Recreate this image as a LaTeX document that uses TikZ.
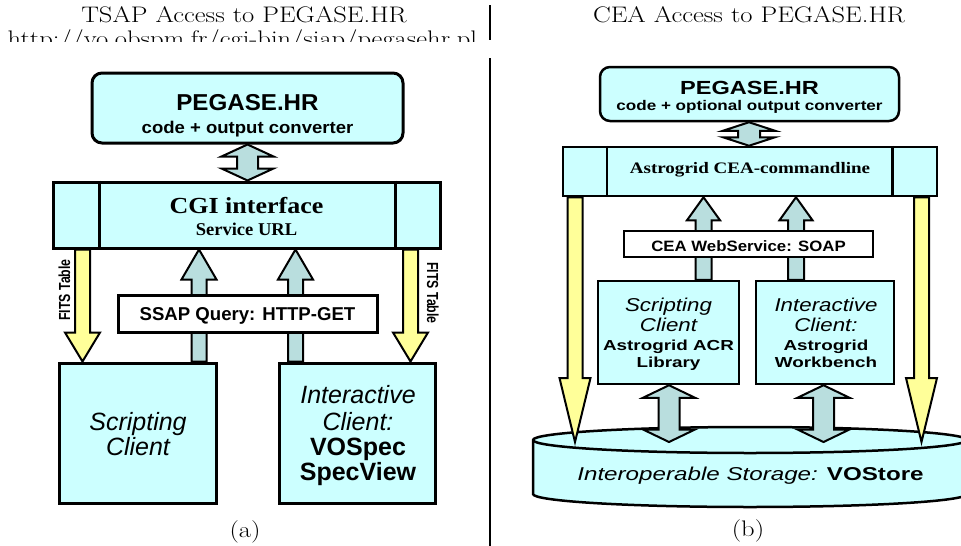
\documentclass[tikz,border=0pt]{standalone}
\usepackage{fontspec}
\setsansfont{Liberation Sans}
\newfontfamily\tms{Liberation Serif}
\usepackage{graphicx}
\usetikzlibrary{calc}
\definecolor{boxcyan}{RGB}{204,255,255}
\definecolor{arrcyan}{RGB}{185,222,222}
\definecolor{arryel}{RGB}{255,255,153}
\newcommand{\hs}[2]{\scalebox{#1}[1]{#2}}
\newcommand{\fs}[1]{\fontsize{#1}{#1}\selectfont}
% #1 style, #2 tail, #3 tip, #4 head half width, #5 shaft half width, #6 head length
\newcommand{\blockarrow}[6]{%
  \draw[#1] let \p1=#2, \p2=#3, \p3=($#3!#6!#2$) in
  (\x1-#5,\y1) -- (\x3-#5,\y3) -- (\x3-#4,\y3) -- (\x2,\y2) -- (\x3+#4,\y3) -- (\x3+#5,\y3) -- (\x1+#5,\y1) -- cycle;}
\newcommand{\dblarrow}[6]{%
  \draw[#1] let \p1=#2, \p2=#3, \p3=($#2!#6!#3$), \p4=($#3!#6!#2$) in
  (\x1,\y1) -- (\x3+#4,\y3) -- (\x3+#5,\y3) -- (\x4+#5,\y4) -- (\x4+#4,\y4) -- (\x2,\y2) -- (\x4-#4,\y4) -- (\x4-#5,\y4) -- (\x3-#5,\y3) -- (\x3-#4,\y3) -- cycle;}
\tikzset{
  cbox/.style={draw=black, fill=boxcyan, line width=3pt, inner sep=0pt},
  wbox/.style={draw=black, fill=white, line width=3pt, inner sep=0pt},
  cboxb/.style={draw=black, fill=boxcyan, line width=2.5pt, inner sep=0pt},
  wboxb/.style={draw=black, fill=white, line width=2.5pt, inner sep=0pt},
  arrc/.style={draw=black, fill=arrcyan, line width=2pt},
  arry/.style={draw=black, fill=arryel, line width=2pt},
  txt/.style={anchor=base, inner sep=0pt, outer sep=0pt},
  divline/.style={line width=2.4pt},
}
\begin{document}
\begin{tikzpicture}[x=1pt,y=-1pt]
\useasboundingbox (0,0) rectangle (961,546);
% ---------- headers ----------
\node[txt] (h1) at (244,22.3) {\fs{22.5}\hs{1.18}{TSAP Access to PEGASE.HR}};
\begin{scope}
  \clip (0,0) rectangle (485,41.5);
  \node[txt,anchor=base east] (url) at (477,46.5) {\fs{22.5}\hs{1.18}{http://vo.obspm.fr/cgi-bin/siap/pegasehr.pl}};
\end{scope}
\node[txt] (h2) at (749,23) {\fs{22.5}\hs{1.18}{CEA Access to PEGASE.HR}};
\coordinate (d1) at (490,5);
\coordinate (d2) at (490,40);
\coordinate (d3) at (490,58);
\coordinate (d4) at (490,546);
\draw[divline] (d1) -- (d2);
\draw[divline] (d3) -- (d4);
% ---------- left panel ----------
\node[cbox, rounded corners=10pt, minimum width=311pt, minimum height=70pt] (peg1) at (247.5,108) {};
\node[txt] at (247.5,110) {\fs{23}\sffamily\bfseries\hs{1.05}{PEGASE.HR}};
\node[txt] at (247.5,133) {\fs{17}\sffamily\bfseries\hs{1.09}{code + output converter}};

\node[cbox, minimum width=387pt, minimum height=66pt] (cgi) at (246.5,215) {};
\draw[line width=3pt] ([xshift=48pt]cgi.north west) -- ([xshift=48pt]cgi.south west);
\draw[line width=3pt] ([xshift=-46pt]cgi.north east) -- ([xshift=-46pt]cgi.south east);
\node[txt] at (246.5,213) {\fs{23}\tms\bfseries\hs{1.13}{CGI interface}};
\node[txt] at (246.5,235) {\fs{18}\tms\bfseries\hs{1.03}{Service URL}};

\node[cbox, minimum width=157pt, minimum height=140pt] (scr1) at (137.5,433) {};
\node[cbox, minimum width=156pt, minimum height=140pt] (int1) at (357,433) {};

\coordinate (xu1) at (199,0);
\coordinate (xu2) at (295.5,0);
\coordinate (xy1) at (82.5,0);
\coordinate (xy2) at (410.5,0);
\coordinate (xd1) at (247.5,0);
\blockarrow{arrc}{(xu1 |- scr1.north)}{(xu1 |- cgi.south)}{17.5pt}{7.5pt}{30pt}
\blockarrow{arrc}{(xu2 |- int1.north)}{(xu2 |- cgi.south)}{17.5pt}{7.5pt}{30pt}
\blockarrow{arry}{(xy1 |- cgi.south)}{(xy1 |- scr1.north)}{17.5pt}{7.5pt}{29pt}
\blockarrow{arry}{(xy2 |- cgi.south)}{(xy2 |- int1.north)}{17.5pt}{7.5pt}{29pt}
\dblarrow{arrc}{(xd1 |- peg1.south)}{(xd1 |- cgi.north)}{26pt}{10.5pt}{12pt}

\node[wbox, minimum width=259pt, minimum height=37pt] (ssap) at (247.5,313.5) {};
\node[txt] at (247.5,320) {\fs{18.6}\sffamily\bfseries SSAP Query: HTTP-GET};

\node[txt,rotate=90] (fits1) at (70,290) {\fs{16}\sffamily\bfseries\hs{0.77}{FITS Table}};
\node[txt,rotate=-90] (fits2) at (427,293) {\fs{16}\sffamily\bfseries\hs{0.77}{FITS Table}};

\node[txt] at (138,430) {\fs{25}\sffamily\itshape Scripting};
\node[txt] at (138,455) {\fs{25}\sffamily\itshape Client};
\node[txt] at (358,403) {\fs{25}\sffamily\itshape Interactive};
\node[txt] at (358,430.5) {\fs{25}\sffamily\itshape Client:};
\node[txt] at (358,455) {\fs{25}\sffamily\bfseries VOSpec};
\node[txt] at (358,480) {\fs{25}\sffamily\bfseries SpecView};
\node[txt] (capa) at (245,537) {\fs{22.5}\hs{1.18}{(a)}};
% ---------- right panel ----------
\coordinate (stop) at (750,442);
\fill[boxcyan] (533,440) -- (533,494) arc[start angle=180,end angle=360,x radius=217pt,y radius=13pt] -- (967,440) arc[start angle=0,end angle=180,x radius=217pt,y radius=13pt] -- cycle;
\draw[line width=2.5pt] (533,440) -- (533,494) arc[start angle=180,end angle=360,x radius=217pt,y radius=13pt] -- (967,440) arc[start angle=0,end angle=180,x radius=217pt,y radius=13pt] -- cycle;
\draw[line width=2.5pt] (533,440) arc[start angle=180,end angle=360,x radius=217pt,y radius=13pt];
\node[txt] (store) at (750.5,480) {\fs{18.6}\sffamily\hs{1.3}{\itshape Interoperable Storage: \upshape\bfseries VOStore}};

\node[cboxb, rounded corners=10pt, minimum width=299pt, minimum height=54pt] (peg2) at (749.5,94) {};
\node[txt] at (749.5,94) {\fs{19}\sffamily\bfseries\hs{1.24}{PEGASE.HR}};
\node[txt] at (749.5,110.5) {\fs{14}\sffamily\bfseries\hs{1.22}{code + optional output converter}};

\node[cboxb, minimum width=374pt, minimum height=49pt] (cea) at (750,171.5) {};
\draw[line width=2.5pt] ([xshift=45pt]cea.north west) -- ([xshift=45pt]cea.south west);
\draw[line width=2.5pt] ([xshift=-46pt]cea.north east) -- ([xshift=-46pt]cea.south east);
\node[txt] at (750,173) {\fs{16}\tms\bfseries\hs{1.19}{Astrogrid CEA-commandline}};

\node[cboxb, minimum width=141pt, minimum height=103pt] (scr2) at (668.5,332.5) {};
\node[cboxb, minimum width=138pt, minimum height=103pt] (int2) at (825,332.5) {};

\coordinate (xv1) at (703.5,0);
\coordinate (xv2) at (796,0);
\coordinate (xz1) at (575,0);
\coordinate (xz2) at (921.5,0);
\coordinate (xe) at (749,0);
\coordinate (xs1) at (669,0);
\coordinate (xs2) at (823.5,0);
\blockarrow{arrc}{(xv1 |- scr2.north)}{(xv1 |- cea.south)}{16.5pt}{8pt}{23pt}
\blockarrow{arrc}{(xv2 |- int2.north)}{(xv2 |- cea.south)}{16.5pt}{8pt}{23pt}
\blockarrow{arry}{(xz1 |- cea.south)}{(xz1 |- stop)}{15.5pt}{7.5pt}{64pt}
\blockarrow{arry}{(xz2 |- cea.south)}{(xz2 |- stop)}{15.5pt}{7.5pt}{64pt}
\dblarrow{arrc}{(xe |- peg2.south)}{(xe |- cea.north)}{26pt}{11pt}{8.5pt}
\dblarrow{arrc}{(xs1 |- scr2.south)}{(xs1 |- stop)}{26pt}{10.5pt}{12.5pt}
\dblarrow{arrc}{(xs2 |- int2.south)}{(xs2 |- stop)}{26pt}{10.5pt}{12.5pt}

\node[wboxb, minimum width=249pt, minimum height=26pt] (ws) at (748.5,244) {};
\node[txt] at (748.5,251) {\fs{15}\sffamily\bfseries\hs{1.12}{CEA WebService: SOAP}};

\node[txt] at (668.5,311.5) {\fs{18.6}\sffamily\itshape\hs{1.2}{Scripting}};
\node[txt] at (668.5,331.5) {\fs{18.6}\sffamily\itshape\hs{1.2}{Client}};
\node[txt] at (668.5,350) {\fs{14.5}\sffamily\bfseries\hs{1.3}{Astrogrid ACR}};
\node[txt] at (668.5,367.3) {\fs{14.5}\sffamily\bfseries\hs{1.3}{Library}};
\node[txt] at (826,311.5) {\fs{18.6}\sffamily\itshape\hs{1.2}{Interactive}};
\node[txt] at (826,331.5) {\fs{18.6}\sffamily\itshape\hs{1.2}{Client:}};
\node[txt] at (826,350) {\fs{14.5}\sffamily\bfseries\hs{1.3}{Astrogrid}};
\node[txt] at (826,367.3) {\fs{14.5}\sffamily\bfseries\hs{1.3}{Workbench}};
\node[txt] (capb) at (748,536) {\fs{22.5}\hs{1.18}{(b)}};
\end{tikzpicture}
\end{document}
